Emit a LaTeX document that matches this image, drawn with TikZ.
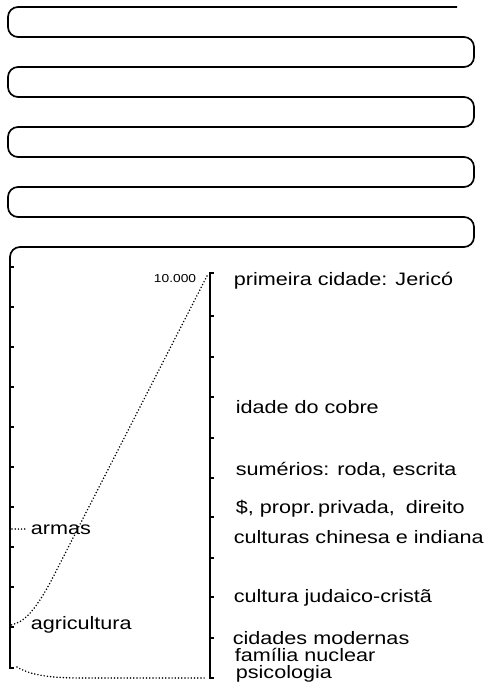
\documentclass[tikz,border=0pt]{standalone}
\usepackage{fontspec}
\setmainfont{Liberation Sans}
\newfontfamily\labfont[FakeStretch=1.2]{Liberation Sans}
\begin{document}
\begin{tikzpicture}[x=1pt,y=-1pt,line width=1.7pt,
  lab/.style={font=\labfont\fontsize{18}{20}\selectfont,inner sep=0pt,anchor=base west},
  small/.style={font=\labfont\fontsize{11.5}{13}\selectfont,inner sep=0pt,anchor=base east},
  dotline/.style={line width=1.7pt,dash pattern=on 0pt off 3.2pt,line cap=round}]
\useasboundingbox (0,0) rectangle (491,690);
% serpentine
\draw[rounded corners=10pt] (457,7) -- (8,7) -- (8,37) -- (474,37) -- (474,67) -- (8,67) -- (8,97)
  -- (474,97) -- (474,127) -- (8,127) -- (8,157) -- (474,157) -- (474,187) -- (8,187) -- (8,217)
  -- (474,217) -- (474,247) -- (10,247) -- (10,300);
% left axis
\draw (10,290) -- (10,668) -- (14,668);
\foreach \y in {267,307,...,627} \draw (10,\y) -- (14,\y);
% right axis
\draw (214,273) -- (210,273) -- (210,678) -- (214,678);
\foreach \y in {316,357,397,438,478,517,558,597,638} \draw (210,\y) -- (214,\y);
% coordinates
\coordinate (ctop) at (207,276);
\coordinate (cmid) at (50,583);
\coordinate (cagr) at (11,625);
\coordinate (carm0) at (12,529);
\coordinate (carm1) at (27,529);
\coordinate (cbl) at (17,667);
\coordinate (cbm) at (80,678);
\coordinate (cbr) at (207,678);
% dotted lines
\draw[dotline] (ctop) -- (cmid) .. controls (35,610) and (25,622) .. (cagr);
\draw[dotline] (carm0) -- (carm1);
\draw[dotline] (cbl) .. controls (30,675) and (50,678) .. (cbm) -- (cbr);
% labels
\node[small] (n10000) at (197,282) {10.000};
\node[lab] (armas) at (30,534) {armas};
\node[lab] (agri) at (30,629) {agricultura};
\node[lab] (jerico) at (233,285) {primeira cidade: Jericó};
\node[lab] (cobre) at (235,413) {idade do cobre};
\node[lab] (sumer) at (235,475) {sumérios: roda, escrita};
\node[lab] (propr) at (235,513) {\$, propr.\,privada,\; direito};
\node[lab] (chin) at (233,543) {culturas chinesa e indiana};
\node[lab] (judaico) at (233,602) {cultura judaico-cristã};
\node[lab] (cidades) at (232,644) {cidades modernas};
\node[lab] (familia) at (234,661) {família nuclear};
\node[lab] (psico) at (235,678) {psicologia};
\end{tikzpicture}
\end{document}
